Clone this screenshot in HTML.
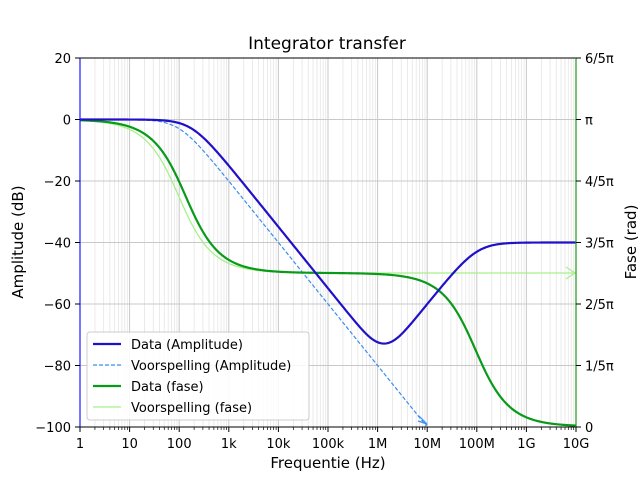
<!DOCTYPE html>
<html><head><meta charset="utf-8"><style>
html,body{margin:0;padding:0;background:#fff;width:640px;height:480px;overflow:hidden}
text{font-family:"DejaVu Sans","Liberation Sans",sans-serif}
</style></head><body>
<svg id="s" width="640" height="480" viewBox="0 0 640 480" xmlns="http://www.w3.org/2000/svg">
<rect width="640" height="480" fill="#fff"/>
<g id="grid"></g>
<g id="curves"></g>
<rect x="80" y="58" width="496" height="369" fill="none" stroke="#000" stroke-width="1"/>
<line x1="80" y1="58" x2="80" y2="427" stroke="#1a1aff" stroke-width="1.2"/>
<line x1="576" y1="58" x2="576" y2="427" stroke="#1a9a1a" stroke-width="1.2"/>
<g id="ticks"></g>
<text x="327" y="49" font-size="17" text-anchor="middle">Integrator transfer</text>
<text x="328" y="468" font-size="15" text-anchor="middle">Frequentie (Hz)</text>
<text transform="translate(23,242) rotate(-90)" font-size="15" text-anchor="middle">Amplitude (dB)</text>
<text transform="translate(636,242) rotate(-90)" font-size="15" text-anchor="middle">Fase (rad)</text>
<g>
<rect x="87" y="332" width="222" height="88" rx="3" fill="#fff" fill-opacity="0.85" stroke="#ccc"/>
<line x1="93" y1="344" x2="121" y2="344" stroke="#2010c8" stroke-width="2.2"/>
<text x="131" y="349" font-size="13">Data (Amplitude)</text>
<line x1="93" y1="365" x2="121" y2="365" stroke="#3a8ef0" stroke-width="1.2" stroke-dasharray="4,2"/>
<text x="131" y="370" font-size="13">Voorspelling (Amplitude)</text>
<line x1="93" y1="386" x2="121" y2="386" stroke="#0a9a1a" stroke-width="2.2"/>
<text x="131" y="391" font-size="13">Data (fase)</text>
<line x1="93" y1="407" x2="121" y2="407" stroke="#a8f08a" stroke-width="1.2"/>
<text x="131" y="412" font-size="13">Voorspelling (fase)</text>
</g>
</svg>
<script>
var NS="http://www.w3.org/2000/svg";
function X(f){return 80+49.6*Math.log10(f);}
function el(p,t,a,txt){var e=document.createElementNS(NS,t);for(var k in a)e.setAttribute(k,a[k]);if(txt!==undefined)e.textContent=txt;document.getElementById(p).appendChild(e);return e;}
for(var d=0;d<10;d++)for(var m=2;m<10;m++){var x=X(m*Math.pow(10,d));el("grid","line",{x1:x,x2:x,y1:58,y2:427,stroke:"#e6e6e6","stroke-width":0.8});}
for(var d=1;d<10;d++){var x=X(Math.pow(10,d));el("grid","line",{x1:x,x2:x,y1:58,y2:427,stroke:"#c8c8c8","stroke-width":1});}
for(var i=1;i<6;i++){var y=58+i*61.5;el("grid","line",{x1:80,x2:576,y1:y,y2:y,stroke:"#c8c8c8","stroke-width":1});}
var xl=["1","10","100","1k","10k","100k","1M","10M","100M","1G","10G"];
for(var d=0;d<=10;d++){var x=X(Math.pow(10,d));el("ticks","line",{x1:x,x2:x,y1:427,y2:432,stroke:"#000"});el("ticks","text",{x:x,y:448,"font-size":13,"text-anchor":"middle"},xl[d]);
 if(d<10)for(var m=2;m<10;m++){var xm=X(m*Math.pow(10,d));el("ticks","line",{x1:xm,x2:xm,y1:427,y2:430,stroke:"#000","stroke-width":0.7});}}
var yl=["20","0","\u221220","\u221240","\u221260","\u221280","\u2212100"];
var rl=["6/5\u03c0","\u03c0","4/5\u03c0","3/5\u03c0","2/5\u03c0","1/5\u03c0","0"];
for(var i=0;i<7;i++){var y=58+i*61.5;el("ticks","line",{x1:75,x2:80,y1:y,y2:y,stroke:"#000"});el("ticks","text",{x:71,y:y+5,"font-size":13,"text-anchor":"end"},yl[i]);
 el("ticks","line",{x1:576,x2:581,y1:y,y2:y,stroke:"#000"});el("ticks","text",{x:585,y:y+5,"font-size":13},rl[i]);}
function curve(fn,fmax){var p=[];for(var k=0;k<=400;k++){var f=Math.pow(10,k/40);if(f>fmax)break;p.push(X(f).toFixed(2)+","+fn(f).toFixed(2));}return "M"+p.join(" L");}
function Ydb(db){return 58+(20-db)*3.075;}
var at=function(v){return 2/Math.PI*Math.atan(v);};
el("curves","path",{d:curve(function(f){return Ydb(-10*Math.log10(1+Math.pow(f/100,2)));},9.6e6)+" L427,424",fill:"none",stroke:"#3a8ef0","stroke-width":1.2,"stroke-dasharray":"4,2"});
el("curves","path",{d:"M419,416 L427,424 L418,421",fill:"none",stroke:"#3a8ef0","stroke-width":1.2});
el("curves","path",{d:curve(function(f){return 273-153.5*(1-at(f/98));},1e10),fill:"none",stroke:"#a8f08a","stroke-width":1.3});
el("curves","path",{d:"M566,267 L575,273 L566,279",fill:"none",stroke:"#a8f08a","stroke-width":1.3});
el("curves","path",{d:curve(function(f){return 273-153.5*(1-at(f/135))+153.5*at(f/9.4e7);},1e10),fill:"none",stroke:"#0a9a1a","stroke-width":2.2});
el("curves","path",{d:curve(function(f){var a1=1/(1+Math.pow(f/180,2));var a2=1e-4/(1+Math.pow(1e8/f,2));var a3=2.5e-8/(1+Math.pow(1.3e6/f,2)*0.3+Math.pow(f/1.3e6,2)*0.3);return Ydb(10*Math.log10(a1+a2+a3));},1e10),fill:"none",stroke:"#2010c8","stroke-width":2.2});
</script>
</body></html>
